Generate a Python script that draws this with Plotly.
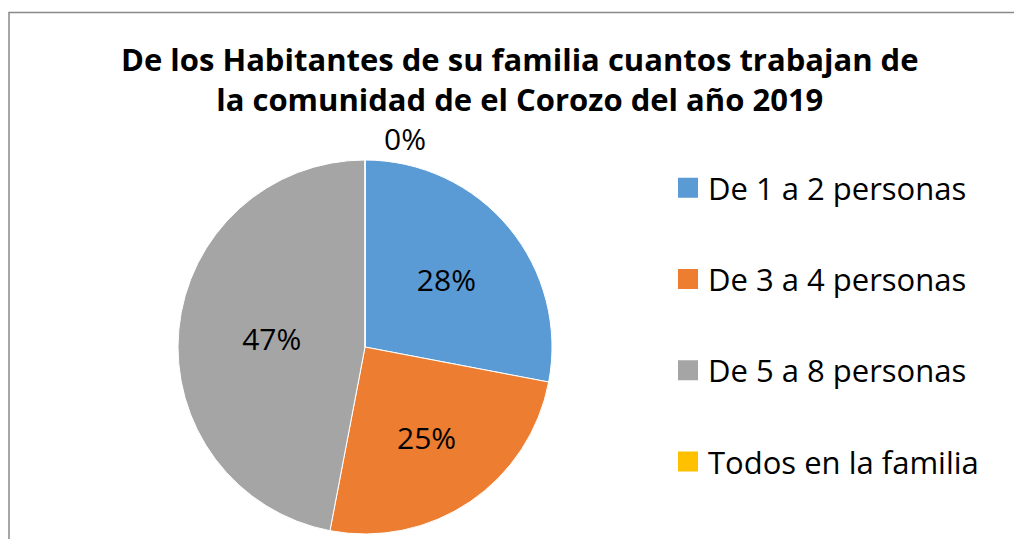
import plotly.graph_objects as go

categories = ["De 1 a 2 personas", "De 3 a 4 personas", "De 5 a 8 personas", "Todos en la familia"]
values = [28, 25, 47, 0]
colors = ["#5B9BD5", "#ED7D31", "#A5A5A5", "#FFC000"]
title_lines = ["De los Habitantes de su familia cuantos trabajan de", "la comunidad de el Corozo del año 2019"]

W, H = 1022, 539
OFF = 8  # page body margin in the browser
FONT = "Open Sans"


def px(x):
    return (x - OFF) / W


def py(y):
    return 1 - (y - OFF) / H


fig = go.Figure()
fig.add_trace(go.Pie(
    labels=categories,
    values=values,
    marker=dict(colors=colors, line=dict(color="white", width=1)),
    sort=False,
    direction="clockwise",
    rotation=0,
    textinfo="percent",
    texttemplate="%{percent:.0%}",
    textposition="inside",
    insidetextorientation="horizontal",
    textfont=dict(family=FONT, size=30, color="#000000"),
    showlegend=False,
    hoverinfo="label+percent",
    domain=dict(x=[px(178), px(552)], y=[py(534), py(160)]),
))

# legend via dummy traces
for name, col in zip(categories, colors):
    fig.add_trace(go.Scatter(
        x=[None], y=[None], mode="markers", name=name, legendgroup=name,
        marker=dict(symbol="square", size=16, color=col, line=dict(color=col, width=4)),
    ))

# zero-value label
total = sum(values)
fig.add_annotation(
    x=px(405), y=py(138), xref="paper", yref="paper",
    xanchor="center", yanchor="middle",
    text=f"{round(values[3] / total * 100)}%", showarrow=False,
    font=dict(family=FONT, size=30, color="#000000"),
)

fig.add_annotation(
    x=px(520), y=py(79), xref="paper", yref="paper",
    xanchor="center", yanchor="middle",
    text="<b>" + "<br>".join(title_lines) + "</b>", showarrow=False,
    font=dict(family=FONT, size=31, color="#000000"),
    align="center",
)

fig.add_shape(type="rect", xref="paper", yref="paper",
              x0=1 / W, y0=-0.05, x1=1.05, y1=py(12.5),
              line=dict(color="#898989", width=1.5))

fig.update_layout(
    width=W, height=H,
    margin=dict(l=0, r=0, t=0, b=0),
    paper_bgcolor="white", plot_bgcolor="white",
    xaxis=dict(visible=False, domain=[0.9, 0.91]),
    yaxis=dict(visible=False, domain=[0.9, 0.91]),
    legend=dict(
        x=px(668), y=py(161), xanchor="left", yanchor="top",
        font=dict(family=FONT, size=31, color="#000000"),
        tracegroupgap=48, itemwidth=30,
        bgcolor="rgba(0,0,0,0)",
    ),
    showlegend=True,
)

fig.write_html("out.html")
